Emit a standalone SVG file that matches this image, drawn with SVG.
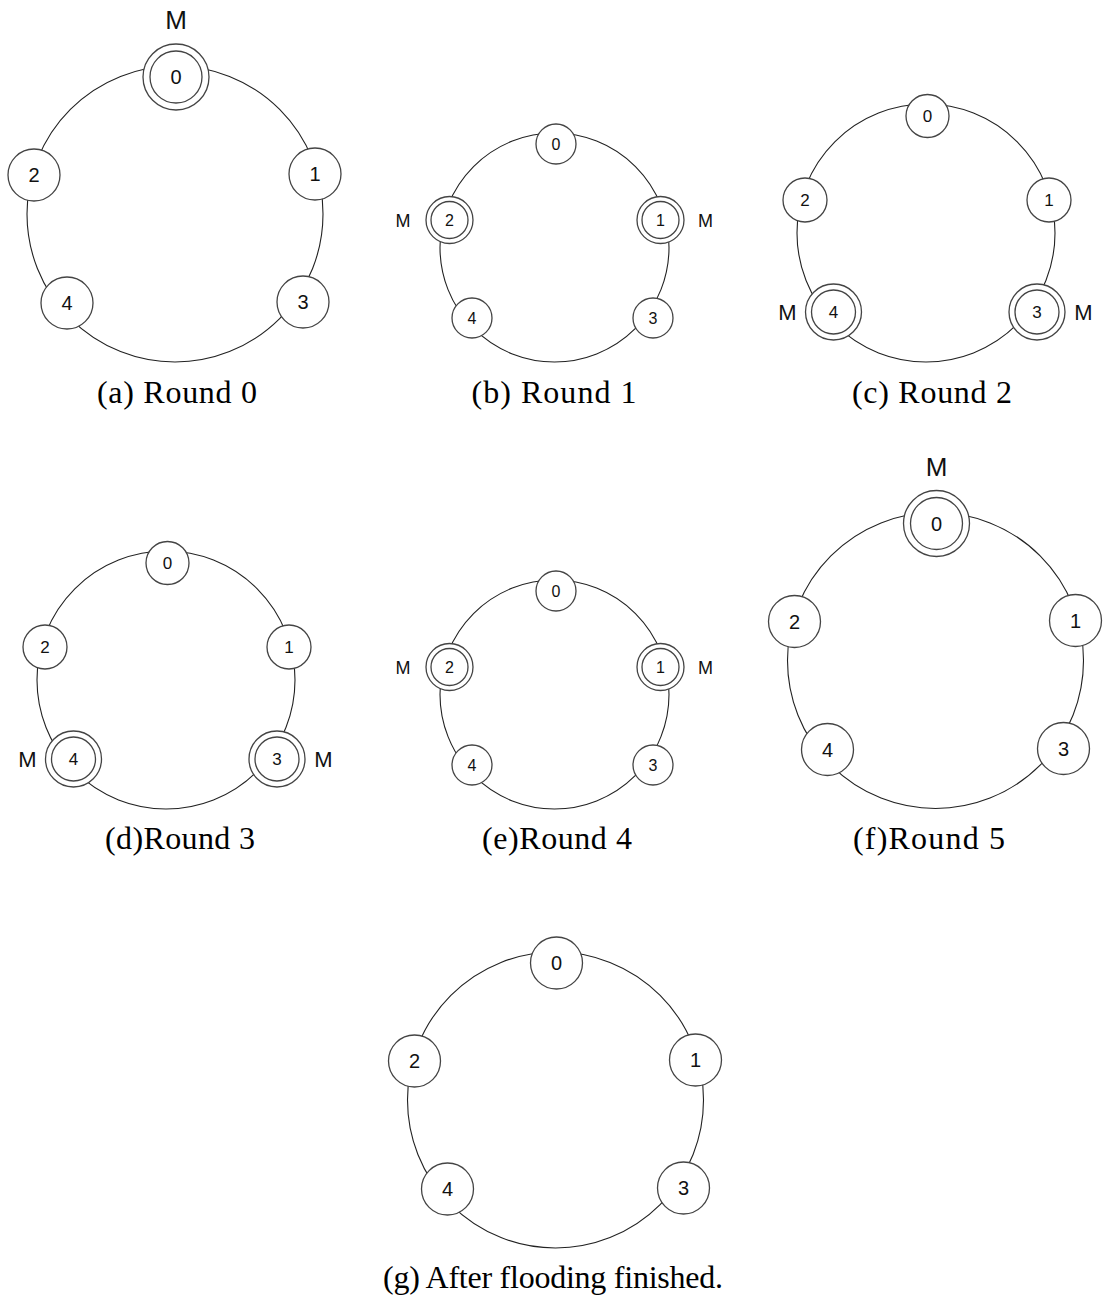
<svg xmlns="http://www.w3.org/2000/svg" width="1103" height="1301" viewBox="0 0 1103 1301">
<style>
.ring{fill:none;stroke:#222;stroke-width:1.1}
.nd{fill:#fff;stroke:#444;stroke-width:1.3}
.lbl{font-family:"Liberation Sans",Arial,sans-serif;fill:#111;text-anchor:middle}
.cap{font-family:"Liberation Serif","Times New Roman",serif;fill:#000;text-anchor:middle;font-size:32px}
.la{font-size:20px}.lb{font-size:16px}.lc{font-size:17px}
.ma{font-size:26px}.mb{font-size:18px}.mc{font-size:22px}
</style>
<rect width="1103" height="1301" fill="#fff"/>
<g id="connectors">
  <circle class="ring" cx="175" cy="214" r="148"/>
  <circle class="ring" cx="554.5" cy="247.5" r="114.5"/>
  <circle class="ring" cx="926" cy="233" r="129"/>
  <circle class="ring" cx="166" cy="680" r="129"/>
  <circle class="ring" cx="554.5" cy="694.5" r="114.5"/>
  <circle class="ring" cx="935.5" cy="660.5" r="148"/>
  <circle class="ring" cx="555.5" cy="1100" r="148"/>
</g>

<!-- (a) Round 0 -->
<g id="panel-a">
  <g id="a-n0"><circle class="nd" cx="176" cy="77" r="33"/><circle class="nd" cx="176" cy="77" r="26"/><text class="lbl la" x="176" y="84">0</text><text class="lbl ma" x="176" y="29">M</text></g>
  <g id="a-n1"><circle class="nd" cx="315" cy="174" r="26"/><text class="lbl la" x="315" y="181">1</text></g>
  <g id="a-n2"><circle class="nd" cx="34" cy="175" r="26"/><text class="lbl la" x="34" y="182">2</text></g>
  <g id="a-n3"><circle class="nd" cx="303" cy="302" r="26"/><text class="lbl la" x="303" y="309">3</text></g>
  <g id="a-n4"><circle class="nd" cx="67" cy="303" r="26"/><text class="lbl la" x="67" y="310">4</text></g>
  <text class="cap" x="177" y="403" textLength="160" lengthAdjust="spacing">(a) Round 0</text>
</g>

<!-- (b) Round 1 -->
<g id="panel-b">
  <g id="b-n0"><circle class="nd" cx="556" cy="144" r="20"/><text class="lbl lb" x="556" y="150">0</text></g>
  <g id="b-n1"><circle class="nd" cx="660.5" cy="220" r="23.5"/><circle class="nd" cx="660.5" cy="220" r="18.5"/><text class="lbl lb" x="660.5" y="226">1</text><text class="lbl mb" x="705.5" y="226.5">M</text></g>
  <g id="b-n2"><circle class="nd" cx="449.5" cy="220" r="23.5"/><circle class="nd" cx="449.5" cy="220" r="18.5"/><text class="lbl lb" x="449.5" y="226">2</text><text class="lbl mb" x="403" y="226.5">M</text></g>
  <g id="b-n3"><circle class="nd" cx="653" cy="318" r="20"/><text class="lbl lb" x="653" y="324">3</text></g>
  <g id="b-n4"><circle class="nd" cx="472" cy="318" r="20"/><text class="lbl lb" x="472" y="324">4</text></g>
  <text class="cap" x="554" y="403" textLength="165" lengthAdjust="spacing">(b) Round 1</text>
</g>

<!-- (c) Round 2 -->
<g id="panel-c">
  <g id="c-n0"><circle class="nd" cx="927.5" cy="116" r="21.5"/><text class="lbl lc" x="927.5" y="122">0</text></g>
  <g id="c-n1"><circle class="nd" cx="1049" cy="200" r="22"/><text class="lbl lc" x="1049" y="206">1</text></g>
  <g id="c-n2"><circle class="nd" cx="805" cy="200" r="22"/><text class="lbl lc" x="805" y="206">2</text></g>
  <g id="c-n3"><circle class="nd" cx="1037" cy="312" r="28"/><circle class="nd" cx="1037" cy="312" r="22"/><text class="lbl lc" x="1037" y="318">3</text><text class="lbl mc" x="1083.5" y="320">M</text></g>
  <g id="c-n4"><circle class="nd" cx="833.5" cy="312" r="28"/><circle class="nd" cx="833.5" cy="312" r="22"/><text class="lbl lc" x="833.5" y="318">4</text><text class="lbl mc" x="787.5" y="320">M</text></g>
  <text class="cap" x="932" y="403" textLength="160" lengthAdjust="spacing">(c) Round 2</text>
</g>

<!-- (d) Round 3 -->
<g id="panel-d" transform="translate(-760,447)">
  <g id="d-n0"><circle class="nd" cx="927.5" cy="116" r="21.5"/><text class="lbl lc" x="927.5" y="122">0</text></g>
  <g id="d-n1"><circle class="nd" cx="1049" cy="200" r="22"/><text class="lbl lc" x="1049" y="206">1</text></g>
  <g id="d-n2"><circle class="nd" cx="805" cy="200" r="22"/><text class="lbl lc" x="805" y="206">2</text></g>
  <g id="d-n3"><circle class="nd" cx="1037" cy="312" r="28"/><circle class="nd" cx="1037" cy="312" r="22"/><text class="lbl lc" x="1037" y="318">3</text><text class="lbl mc" x="1083.5" y="320">M</text></g>
  <g id="d-n4"><circle class="nd" cx="833.5" cy="312" r="28"/><circle class="nd" cx="833.5" cy="312" r="22"/><text class="lbl lc" x="833.5" y="318">4</text><text class="lbl mc" x="787.5" y="320">M</text></g>
  <text class="cap" x="940" y="402" textLength="150" lengthAdjust="spacing">(d)Round 3</text>
</g>

<!-- (e) Round 4 -->
<g id="panel-e" transform="translate(0,447)">
  <g id="e-n0"><circle class="nd" cx="556" cy="144" r="20"/><text class="lbl lb" x="556" y="150">0</text></g>
  <g id="e-n1"><circle class="nd" cx="660.5" cy="220" r="23.5"/><circle class="nd" cx="660.5" cy="220" r="18.5"/><text class="lbl lb" x="660.5" y="226">1</text><text class="lbl mb" x="705.5" y="226.5">M</text></g>
  <g id="e-n2"><circle class="nd" cx="449.5" cy="220" r="23.5"/><circle class="nd" cx="449.5" cy="220" r="18.5"/><text class="lbl lb" x="449.5" y="226">2</text><text class="lbl mb" x="403" y="226.5">M</text></g>
  <g id="e-n3"><circle class="nd" cx="653" cy="318" r="20"/><text class="lbl lb" x="653" y="324">3</text></g>
  <g id="e-n4"><circle class="nd" cx="472" cy="318" r="20"/><text class="lbl lb" x="472" y="324">4</text></g>
  <text class="cap" x="557" y="402" textLength="150" lengthAdjust="spacing">(e)Round 4</text>
</g>

<!-- (f) Round 5 -->
<g id="panel-f" transform="translate(760.5,446.5)">
  <g id="f-n0"><circle class="nd" cx="176" cy="77" r="33"/><circle class="nd" cx="176" cy="77" r="26"/><text class="lbl la" x="176" y="84">0</text><text class="lbl ma" x="176" y="29">M</text></g>
  <g id="f-n1"><circle class="nd" cx="315" cy="174" r="26"/><text class="lbl la" x="315" y="181">1</text></g>
  <g id="f-n2"><circle class="nd" cx="34" cy="175" r="26"/><text class="lbl la" x="34" y="182">2</text></g>
  <g id="f-n3"><circle class="nd" cx="303" cy="302" r="26"/><text class="lbl la" x="303" y="309">3</text></g>
  <g id="f-n4"><circle class="nd" cx="67" cy="303" r="26"/><text class="lbl la" x="67" y="310">4</text></g>
  <text class="cap" x="168.5" y="402.5" textLength="152" lengthAdjust="spacing">(f)Round 5</text>
</g>

<!-- (g) After flooding finished -->
<g id="panel-g" transform="translate(380.5,886)">
  <g id="g-n0"><circle class="nd" cx="176" cy="77" r="26"/><text class="lbl la" x="176" y="84">0</text></g>
  <g id="g-n1"><circle class="nd" cx="315" cy="174" r="26"/><text class="lbl la" x="315" y="181">1</text></g>
  <g id="g-n2"><circle class="nd" cx="34" cy="175" r="26"/><text class="lbl la" x="34" y="182">2</text></g>
  <g id="g-n3"><circle class="nd" cx="303" cy="302" r="26"/><text class="lbl la" x="303" y="309">3</text></g>
  <g id="g-n4"><circle class="nd" cx="67" cy="303" r="26"/><text class="lbl la" x="67" y="310">4</text></g>
  <text class="cap" x="172.5" y="402" textLength="340" lengthAdjust="spacing">(g) After flooding finished.</text>
</g>
</svg>
